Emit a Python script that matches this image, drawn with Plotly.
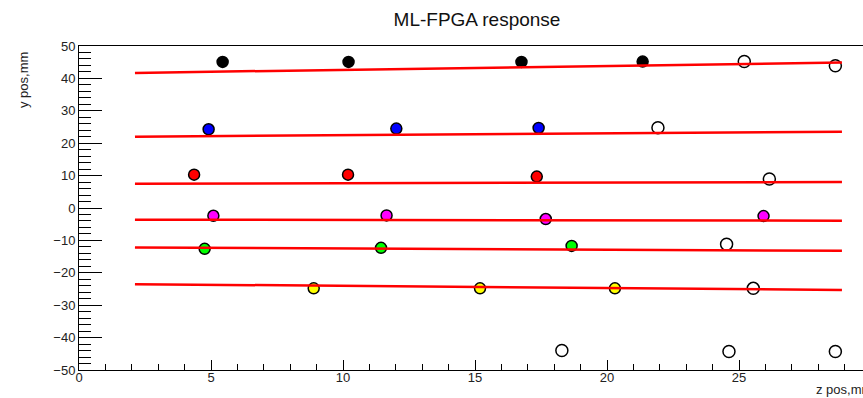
import plotly.graph_objects as go

# Hit positions (z, y) per track, filled markers
black_z = [5.44, 10.21, 16.76, 21.35]
black_y = [45.1, 45.1, 45.1, 45.2]
blue_z = [4.91, 12.02, 17.41]
blue_y = [24.3, 24.5, 24.7]
red_z = [4.36, 10.19, 17.34]
red_y = [10.3, 10.3, 9.7]
magenta_z = [5.09, 11.65, 17.68, 25.93]
magenta_y = [-2.4, -2.3, -3.4, -2.5]
green_z = [4.76, 11.44, 18.66]
green_y = [-12.6, -12.3, -11.7]
yellow_z = [8.89, 15.19, 20.30]
yellow_y = [-24.8, -24.8, -24.8]

# Unassigned hits (open markers)
open_z = [25.20, 28.65, 21.93, 26.15, 24.53, 25.54, 18.29, 24.62, 28.65]
open_y = [45.2, 43.9, 24.8, 8.95, -11.2, -24.8, -44.0, -44.3, -44.3]

# Fitted track lines: y at z_start and z_end
line_z = [2.12, 28.9]
fit_start = [41.7, 22.0, 7.5, -3.6, -12.2, -23.5]
fit_end = [44.9, 23.55, 8.0, -3.9, -13.2, -25.3]

x_ticks = [0, 5, 10, 15, 20, 25]
y_ticks = [-50, -40, -30, -20, -10, 0, 10, 20, 30, 40, 50]

W, H = 863, 398
L, T, B = 79, 46, 28

fig = go.Figure()

filled = [
    (black_z, black_y, "#000000"),
    (blue_z, blue_y, "#0000ff"),
    (red_z, red_y, "#ff0000"),
    (magenta_z, magenta_y, "#ff00ff"),
    (green_z, green_y, "#00ff00"),
    (yellow_z, yellow_y, "#ffff00"),
]
for zs, ys, c in filled:
    fig.add_trace(go.Scatter(
        x=zs, y=ys, mode="markers",
        marker=dict(symbol="circle", size=11, color=c,
                    line=dict(color="#000000", width=1.5)),
        showlegend=False, cliponaxis=False,
    ))

fig.add_trace(go.Scatter(
    x=open_z, y=open_y, mode="markers",
    marker=dict(symbol="circle-open", size=12, color="#000000",
                line=dict(color="#000000", width=1.5)),
    showlegend=False, cliponaxis=False,
))

for y0, y1 in zip(fit_start, fit_end):
    fig.add_trace(go.Scatter(
        x=line_z, y=[y0, y1], mode="lines",
        line=dict(color="#ff0000", width=2.5),
        showlegend=False,
    ))

font = dict(family="Liberation Sans, Arial, sans-serif", size=13, color="#222222")

fig.update_layout(
    width=W, height=H,
    margin=dict(l=L, r=0, t=T, b=B, pad=0),
    paper_bgcolor="white", plot_bgcolor="white",
    font=font,
    title=dict(text="ML-FPGA response", xref="container", yref="container",
               x=477 / W, xanchor="center", y=1 - 19.6 / H, yanchor="middle",
               font=dict(family="Liberation Sans, Arial, sans-serif", size=19,
                         color="#111111")),
    xaxis=dict(range=[0, (W - L) / 26.4], showgrid=False, zeroline=False,
               showline=True, linecolor="#000000", linewidth=1, mirror=True,
               ticks="inside", ticklen=10, tickwidth=1, tickcolor="#000000",
               tickvals=x_ticks, ticktext=[str(v) for v in x_ticks],
               ticklabelstandoff=-5,
               minor=dict(dtick=1, tick0=0, ticks="inside", ticklen=6,
                          tickwidth=1, tickcolor="#000000", showgrid=False),
               tickfont=font),
    yaxis=dict(range=[-50, 50], showgrid=False, zeroline=False,
               showline=True, linecolor="#000000", linewidth=1,
               ticks="inside", ticklen=23, tickwidth=1, tickcolor="#000000",
               tickvals=y_ticks, ticktext=[str(v).replace("-", "\u2212") for v in y_ticks],
               minor=dict(dtick=2, tick0=0, ticks="inside", ticklen=12,
                          tickwidth=1, tickcolor="#000000", showgrid=False),
               tickfont=font),
)

plot_w = W - L
plot_h = H - T - B

fig.add_annotation(
    text="y pos,mm", textangle=-90, showarrow=False,
    xref="paper", yref="paper",
    x=(23 - L) / plot_w, xanchor="center",
    y=(H - B - 50) / plot_h, yanchor="top",
    font=font,
)
fig.add_annotation(
    text="z pos,mm", showarrow=False,
    xref="paper", yref="paper",
    x=(814 - L) / plot_w, xanchor="left",
    y=(H - B - 389) / plot_h, yanchor="middle",
    font=font,
)

fig.write_html("out.html")
